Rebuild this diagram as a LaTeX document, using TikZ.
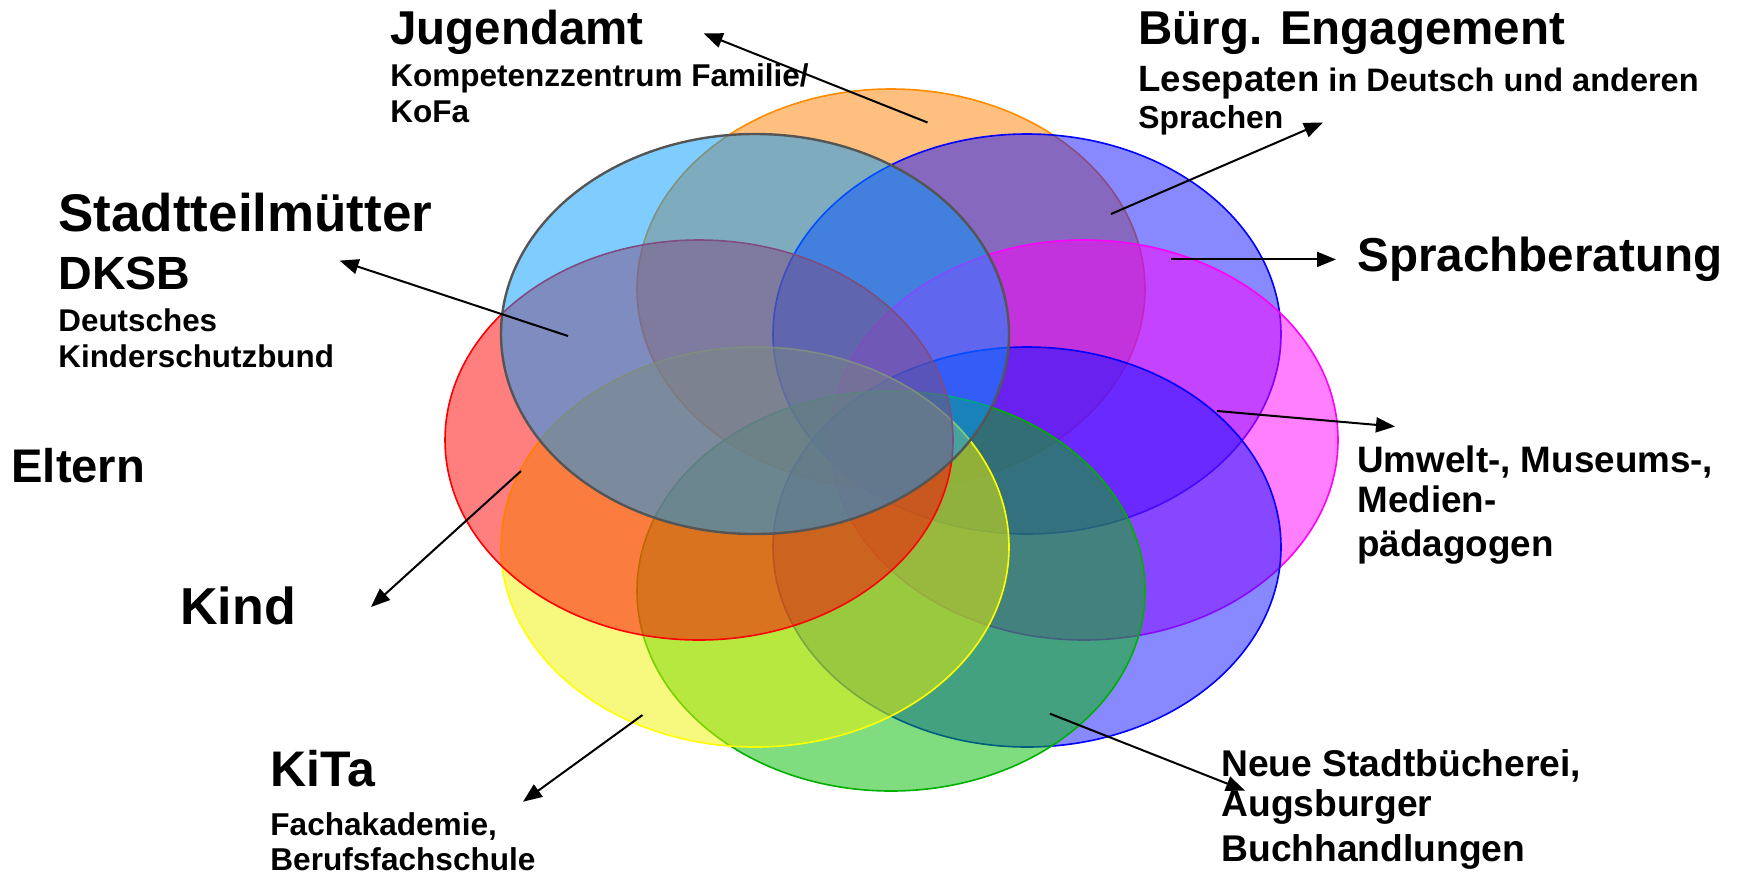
\documentclass[tikz,border=0pt]{standalone}
\usepackage{fontspec}
\setmainfont{Liberation Sans}
\usetikzlibrary{arrows.meta,shapes.geometric}
\definecolor{orgF}{HTML}{FF8000}\definecolor{orgB}{HTML}{FF8C00}
\definecolor{bluF}{HTML}{1111FF}\definecolor{bluB}{HTML}{0000FF}
\definecolor{magF}{HTML}{FF00FF}\definecolor{magB}{HTML}{FF00FF}
\definecolor{grnF}{HTML}{00BB00}\definecolor{grnB}{HTML}{00B000}
\definecolor{yelF}{HTML}{EFF300}\definecolor{yelB}{HTML}{FFFF00}
\definecolor{redF}{HTML}{FF0000}\definecolor{redB}{HTML}{FF0000}
\definecolor{lbF}{HTML}{0099FF}\definecolor{lbB}{HTML}{555555}
\begin{document}
\begin{tikzpicture}[x=0.5pt,y=-0.5pt,
  lbl/.style={anchor=base west,inner sep=0pt,font=\bfseries},
  ell/.style={shape=ellipse,inner sep=0pt,minimum width=254pt,minimum height=200pt,fill opacity=0.5,line width=0.8pt},
  arr/.style={-{Triangle[length=9.5pt,width=7.5pt]},line width=1pt,black}]
\useasboundingbox (0,0) rectangle (1746,874);
% ellipses, bottom to top
\node[ell,draw=orgB,fill=orgF] (orange) at (891,289) {};
\node[ell,draw=bluB,fill=bluF] (bluetr) at (1027,334) {};
\node[ell,draw=magB,fill=magF] (magenta) at (1084,440) {};
\node[ell,draw=bluB,fill=bluF] (bluebr) at (1027,547) {};
\node[ell,draw=grnB,fill=grnF] (green) at (891,591) {};
\node[ell,draw=yelB,fill=yelF] (yellow) at (755,547) {};
\node[ell,draw=redB,fill=redF] (red) at (699,440) {};
\node[ell,draw=lbB,fill=lbF,line width=1.2pt] (lightblue) at (755,334) {};
% labels
\node[lbl,font=\bfseries\fontsize{23.75}{28}\selectfont] (jug1) at (390,44.5) {Jugendamt};
\node[lbl,font=\bfseries\fontsize{15.75}{19}\selectfont] (jug2) at (390,86) {Kompetenzzentrum Familie/};
\node[lbl,font=\bfseries\fontsize{15.75}{19}\selectfont] (jug3) at (390,122) {KoFa};
\node[lbl,font=\bfseries\fontsize{23.75}{28}\selectfont] (bue1) at (1138,44.5) {Bürg. Engagement};
\node[lbl,font=\bfseries\fontsize{16.25}{19}\selectfont] (bue2) at (1138,91) {{\fontsize{18.3}{22}\selectfont Lesepaten} in Deutsch und anderen};
\node[lbl,font=\bfseries\fontsize{15.9}{19}\selectfont] (bue3) at (1138,128) {Sprachen};
\node[lbl,font=\bfseries\fontsize{26.5}{30}\selectfont] (sta1) at (58,231) {Stadtteilmütter};
\node[lbl,font=\bfseries\fontsize{23.3}{28}\selectfont] (sta2) at (58,289) {DKSB};
\node[lbl,font=\bfseries\fontsize{15.7}{19}\selectfont] (sta3) at (58,331) {Deutsches};
\node[lbl,font=\bfseries\fontsize{15.7}{19}\selectfont] (sta4) at (58,367) {Kinderschutzbund};
\node[lbl,font=\bfseries\fontsize{23.8}{28}\selectfont] (spr) at (1357,271) {Sprachberatung};
\node[lbl,font=\bfseries\fontsize{23.6}{28}\selectfont] (elt) at (11,482) {Eltern};
\node[lbl,font=\bfseries\fontsize{18.4}{22}\selectfont] (umw1) at (1357,472) {Umwelt-, Museums-,};
\node[lbl,font=\bfseries\fontsize{18.4}{22}\selectfont] (umw2) at (1357,512) {Medien-};
\node[lbl,font=\bfseries\fontsize{18.4}{22}\selectfont] (umw3) at (1357,556) {pädagogen};
\node[lbl,font=\bfseries\fontsize{26}{30}\selectfont] (kind) at (180,624) {Kind};
\node[lbl,font=\bfseries\fontsize{25}{30}\selectfont] (kita1) at (270,786) {KiTa};
\node[lbl,font=\bfseries\fontsize{15.8}{19}\selectfont] (kita2) at (270,835) {Fachakademie,};
\node[lbl,font=\bfseries\fontsize{15.8}{19}\selectfont] (kita3) at (270,870) {Berufsfachschule};
\node[lbl,font=\bfseries\fontsize{18.6}{22}\selectfont] (neu1) at (1221,776) {Neue Stadtbücherei,};
\node[lbl,font=\bfseries\fontsize{18.6}{22}\selectfont] (neu2) at (1221,816) {Augsburger};
\node[lbl,font=\bfseries\fontsize{18.6}{22}\selectfont] (neu3) at (1221,861) {Buchhandlungen};
% arrow ends
\coordinate (jugT) at (927.5,122.5); \coordinate (jugH) at (703.7,33.4);
\coordinate (bueT) at (1111,214);    \coordinate (bueH) at (1323,122.5);
\coordinate (staT) at (568,336);     \coordinate (staH) at (339.6,260.6);
\coordinate (sprT) at (1171.4,259.4);\coordinate (sprH) at (1336,259.4);
\coordinate (umwT) at (1217,411);    \coordinate (umwH) at (1395,426.5);
\coordinate (kindT) at (521,471);    \coordinate (kindH) at (371,607);
\coordinate (kitaT) at (642.5,715);  \coordinate (kitaH) at (523,801.7);
\coordinate (neuT) at (1050,713.7);  \coordinate (neuH) at (1245,790.6);
\draw[arr] (jugT) -- (jugH);
\draw[arr] (bueT) -- (bueH);
\draw[arr] (staT) -- (staH);
\draw[arr] (sprT) -- (sprH);
\draw[arr] (umwT) -- (umwH);
\draw[arr] (kindT) -- (kindH);
\draw[arr] (kitaT) -- (kitaH);
\draw[arr] (neuT) -- (neuH);
\end{tikzpicture}
\end{document}
